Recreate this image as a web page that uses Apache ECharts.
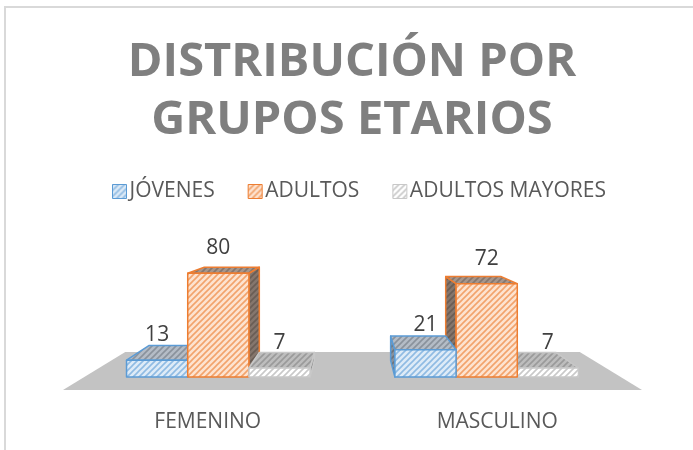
<!DOCTYPE html>
<html>
<head>
<meta charset="utf-8">
<script src="https://cdn.jsdelivr.net/npm/echarts@6/dist/echarts.min.js"></script>
<style>
  html, body { margin: 0; padding: 0; background: #fff; }
  #chart { width: 693px; height: 450px; }
</style>
</head>
<body>
<div id="chart"></div>
<script>
// data
const categories = ['FEMENINO', 'MASCULINO']
const seriesNames = ['JÓVENES', 'ADULTOS', 'ADULTOS MAYORES']
const jovenes = [13, 21]
const adultos = [80, 72]
const adultosMayores = [7, 7]

const FONT = '"Open Sans", "Liberation Sans", sans-serif'

// fake perspective, tuned by eye against the picture
const VP_RISE = 177      // vanishing point height above the floor front edge
const S_FRONT = 0.927    // bar front plane scale
const S_BACK = 0.834     // bar back plane scale
const S_FLOOR = 0.785    // floor back edge scale
const BAR_FRAC = 0.228   // one bar width as share of the band

// small hatch tiles like the excel pattern fills
function hatch(bg, fg) {
  const c = document.createElement('canvas')
  c.width = 6
  c.height = 6
  const ctx = c.getContext('2d')
  ctx.fillStyle = bg
  ctx.fillRect(0, 0, 6, 6)
  ctx.strokeStyle = fg
  ctx.lineWidth = 1.6
  ctx.beginPath()
  ctx.moveTo(-1, 7); ctx.lineTo(7, -1)
  ctx.moveTo(-4, 4); ctx.lineTo(4, -4)
  ctx.moveTo(2, 10); ctx.lineTo(10, 2)
  ctx.stroke()
  return { image: c, repeat: 'repeat' }
}

const styles = [
  { line: '#5b9bd5', front: hatch('#deebf7', '#8fbbe3'), top: hatch('#b4bcc6', '#8a929c'), side: hatch('#8a929c', '#6c737c') },
  { line: '#ed7d31', front: hatch('#fde3d0', '#f2a36c'), top: hatch('#a6968c', '#85766d'), side: hatch('#85766d', '#6a5d55') },
  { line: '#c8c8c8', front: hatch('#ffffff', '#c9c9c9'), top: hatch('#bdbdbd', '#9a9a9a'), side: hatch('#9a9a9a', '#808080') }
]

function renderBar(idx) {
  return function (params, api) {
    const cs = params.coordSys
    const cat = api.value(0)
    const val = api.value(1)
    const base = api.coord([cat, 0])
    const top = api.coord([cat, val])
    const band = api.size([1, 0])[0]
    const w = band * BAR_FRAC
    const xL = base[0] - 1.5 * w + idx * w
    const xR = xL + w
    const yB = base[1]
    const yT = top[1]
    const vpX = cs.x + cs.width / 2
    const vpY = yB - VP_RISE
    const P = (x, y, s) => [vpX + (x - vpX) * s, vpY + (y - vpY) * s]
    const st = styles[idx]
    const z = -Math.abs((xL + xR) / 2 - vpX)
    const edge = { stroke: st.line, lineWidth: 1.5, lineJoin: 'round' }

    const children = []
    if (xR < vpX) {
      children.push({
        type: 'polygon', z2: z,
        shape: { points: [P(xR, yT, S_FRONT), P(xR, yT, S_BACK), P(xR, yB, S_BACK), P(xR, yB, S_FRONT)] },
        style: Object.assign({ fill: st.side }, edge)
      })
    } else if (xL > vpX) {
      children.push({
        type: 'polygon', z2: z,
        shape: { points: [P(xL, yT, S_FRONT), P(xL, yT, S_BACK), P(xL, yB, S_BACK), P(xL, yB, S_FRONT)] },
        style: Object.assign({ fill: st.side }, edge)
      })
    }
    children.push({
      type: 'polygon', z2: z + 0.1,
      shape: { points: [P(xL, yT, S_FRONT), P(xR, yT, S_FRONT), P(xR, yT, S_BACK), P(xL, yT, S_BACK)] },
      style: Object.assign({ fill: st.top }, edge)
    })
    children.push({
      type: 'polygon', z2: z + 0.2,
      shape: { points: [P(xL, yT, S_FRONT), P(xR, yT, S_FRONT), P(xR, yB, S_FRONT), P(xL, yB, S_FRONT)] },
      style: Object.assign({ fill: st.front }, edge)
    })
    const lab = P((xL + xR) / 2, yT, S_FRONT)
    children.push({
      type: 'text', z2: 1000,
      x: lab[0], y: lab[1] - 25,
      style: { text: String(val), fill: '#404040', font: '21px ' + FONT, align: 'center', verticalAlign: 'middle' }
    })
    return { type: 'group', children }
  }
}

function renderFloor(params, api) {
  const cs = params.coordSys
  const yB = api.coord([0, 0])[1]
  const vpX = cs.x + cs.width / 2
  const vpY = yB - VP_RISE
  const P = (x, y, s) => [vpX + (x - vpX) * s, vpY + (y - vpY) * s]
  const x0 = cs.x
  const x1 = cs.x + cs.width
  return {
    type: 'polygon',
    shape: { points: [P(x0, yB, 1), P(x1, yB, 1), P(x1, yB, S_FLOOR), P(x0, yB, S_FLOOR)] },
    style: { fill: '#c3c3c3' }
  }
}

const values = [jovenes, adultos, adultosMayores]

const chart = echarts.init(document.getElementById('chart'))
chart.setOption({
  animation: false,
  backgroundColor: '#fff',
  graphic: [{
    type: 'rect',
    shape: { x: 5, y: 7, width: 800, height: 600 },
    style: { fill: 'none', stroke: '#d9d9d9', lineWidth: 2 },
    silent: true
  }],
  title: {
    text: 'DISTRIBUCIÓN POR\nGRUPOS ETARIOS',
    left: 347,
    textAlign: 'center',
    top: 29,
    textStyle: { fontFamily: FONT, fontSize: 47, fontWeight: 'bold', color: '#7f7f7f', lineHeight: 58 }
  },
  legend: {
    top: 181,
    left: 112,
    padding: 0,
    itemWidth: 14,
    itemHeight: 14,
    itemGap: 33,
    icon: 'rect',
    textStyle: { fontFamily: FONT, fontSize: 21, color: '#595959', padding: [0, 0, 0, -2] },
    data: seriesNames.map((n, i) => ({
      name: n,
      itemStyle: { color: styles[i].front, borderColor: styles[i].line, borderWidth: 1 }
    }))
  },
  grid: { left: 63, right: 51, top: 250, bottom: 60 },
  xAxis: {
    type: 'category',
    data: categories,
    axisLine: { show: false },
    axisTick: { show: false },
    axisLabel: { margin: 22, fontFamily: FONT, fontSize: 21, color: '#595959' }
  },
  yAxis: { type: 'value', min: 0, max: 100, show: false },
  series: [
    {
      type: 'custom',
      name: 'floor',
      z: 1,
      silent: true,
      renderItem: renderFloor,
      data: [[0]]
    }
  ].concat(seriesNames.map((n, i) => ({
    type: 'custom',
    name: n,
    z: 2,
    itemStyle: { color: styles[i].front, borderColor: styles[i].line },
    renderItem: renderBar(i),
    encode: { x: 0, y: 1 },
    data: categories.map((c, j) => [j, values[i][j]])
  })))
})
</script>
</body>
</html>
